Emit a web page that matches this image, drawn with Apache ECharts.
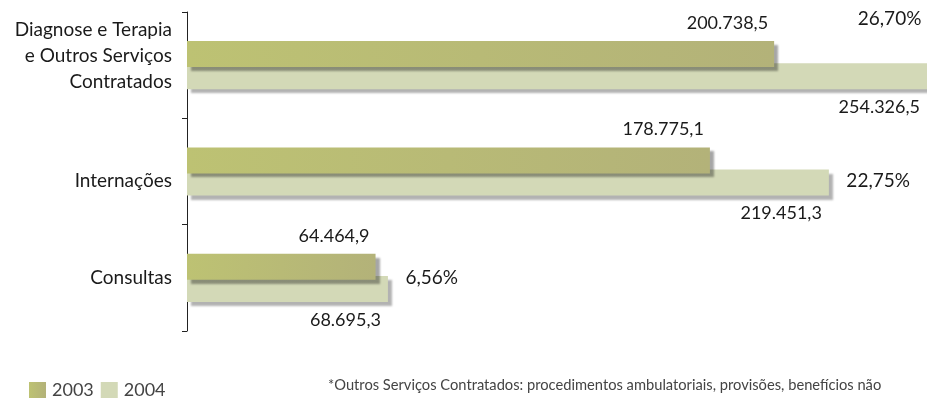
<!DOCTYPE html>
<html>
<head>
<meta charset="utf-8">
<script src="https://cdn.jsdelivr.net/npm/echarts@6/dist/echarts.min.js"></script>
<style>
  html, body { margin: 0; padding: 0; background: #fff; }
  #main { width: 927px; height: 400px; }
</style>
</head>
<body>
<div id="main"></div>
<script>
// categorias (de cima para baixo)
const categories = ["Diagnose e Terapia\ne Outros Serviços\nContratados", "Internações", "Consultas"];
const values2003 = [200738.5, 178775.1, 64464.9];
const values2004 = [254326.5, 219451.3, 68695.3];
const growth = [26.70, 22.75, 6.56];
const footnote = "*Outros Serviços Contratados: procedimentos ambulatoriais, provisões, benefícios não";

const FONT = "Lato, 'Open Sans', sans-serif";

// 200738.5 -> "200.738,5"
function fmt(v) {
  const parts = v.toFixed(1).split(".");
  const inteiro = parts[0].replace(/\B(?=(\d{3})+(?!\d))/g, ".");
  return inteiro + "," + parts[1];
}

const myChart = echarts.init(document.getElementById("main"));

// posição dos rótulos de percentual (em relação ao fim da barra de 2004)
const growthLabels = [
  { position: "left", offset: [-4, -46] },
  { position: "right", offset: [12, 9] },
  { position: "right", offset: [12, 0] }
];

const option = {
  backgroundColor: "#fff",
  animation: false,
  textStyle: { fontFamily: FONT },
  title: {
    text: footnote,
    left: 328,
    top: 378,
    padding: 0,
    textStyle: { fontFamily: FONT, fontSize: 14.7, fontWeight: "normal", color: "#444" }
  },
  legend: {
    data: ["2003", "2004"],
    left: 29,
    top: 381,
    padding: 0,
    itemWidth: 17,
    itemHeight: 16,
    itemGap: 7,
    icon: "rect",
    itemStyle: { shadowBlur: 0, shadowOffsetX: 0, shadowOffsetY: 0 },
    textStyle: { fontFamily: FONT, fontSize: 18, color: "#444", padding: [3, 0, 0, 1] }
  },
  grid: {
    left: 187,
    right: 0,
    top: 12,
    bottom: 69,
    containLabel: false
  },
  xAxis: {
    type: "value",
    min: 0,
    max: 253000,
    show: false
  },
  yAxis: {
    type: "category",
    inverse: true,
    data: categories,
    axisLine: { show: true, lineStyle: { color: "#222", width: 1 } },
    axisTick: { show: true, length: 5, lineStyle: { color: "#222" } },
    axisLabel: {
      fontFamily: FONT,
      fontSize: 19,
      lineHeight: 26,
      color: "#1a1a1a",
      margin: 15,
      align: "right",
      // deslocamento vertical como no original
      formatter: (value, index) => {
        if (index === 0) return value + "\n{s|}";
        if (index === 1) return "{m|" + value + "}";
        return value;
      },
      rich: {
        s: { fontSize: 10, lineHeight: 18 },
        m: { fontFamily: FONT, fontSize: 19, color: "#1a1a1a", padding: [18, 0, 0, 0] }
      }
    },
    splitLine: { show: false }
  },
  series: [
    {
      name: "2003",
      type: "bar",
      z: 3,
      barWidth: 26,
      barGap: "-15%",
      data: values2003,
      itemStyle: {
        color: new echarts.graphic.LinearGradient(0, 0, 1, 0, [
          { offset: 0, color: "#bdc273" },
          { offset: 1, color: "#b3b279" }
        ]),
        shadowColor: "rgba(0,0,0,0.35)",
        shadowBlur: 2,
        shadowOffsetX: 4,
        shadowOffsetY: 4
      },
      label: {
        show: true,
        position: ["100%", 0],
        align: "right",
        verticalAlign: "bottom",
        offset: [-6, -9],
        fontFamily: FONT,
        fontSize: 18,
        color: "#1a1a1a",
        formatter: p => fmt(p.value)
      }
    },
    {
      name: "2004",
      type: "bar",
      z: 2,
      barWidth: 26,
      data: values2004,
      itemStyle: {
        color: "#d3d9b7",
        shadowColor: "rgba(0,0,0,0.3)",
        shadowBlur: 2,
        shadowOffsetX: 4,
        shadowOffsetY: 4
      },
      label: {
        show: true,
        position: ["100%", "100%"],
        align: "right",
        verticalAlign: "top",
        offset: [-7, 9],
        fontFamily: FONT,
        fontSize: 18,
        color: "#1a1a1a",
        formatter: p => fmt(p.value)
      }
    },
    {
      name: "variação",
      type: "scatter",
      clip: false,
      symbolSize: 1,
      itemStyle: { color: "rgba(255,255,255,0)", opacity: 1 },
      silent: true,
      z: 4,
      label: {
        show: true,
        fontFamily: FONT,
        fontSize: 19,
        color: "#1a1a1a",
        opacity: 1,
        formatter: p => growth[p.dataIndex].toFixed(2).replace(".", ",") + "%"
      },
      data: values2004.map((v, i) => ({
        value: [v, i],
        label: growthLabels[i]
      }))
    }
  ]
};

option && myChart.setOption(option);
</script>
</body>
</html>
